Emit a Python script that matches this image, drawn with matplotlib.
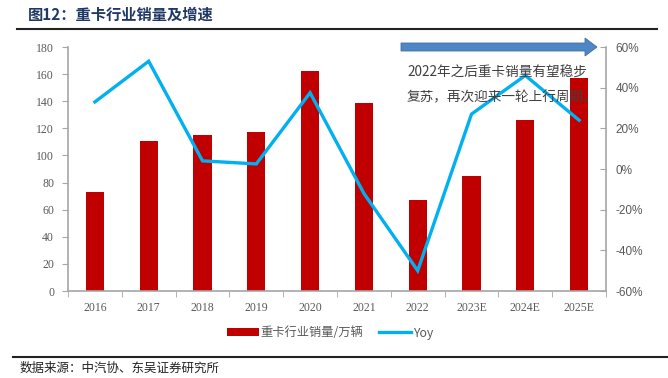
import numpy as np
import matplotlib.pyplot as plt
from matplotlib.patches import FancyArrow
from matplotlib.lines import Line2D
from matplotlib.patches import Patch

plt.rcParams['font.family'] = ['Noto Sans CJK SC', 'DejaVu Sans']

years = ['2016', '2017', '2018', '2019', '2020', '2021', '2022', '2023E', '2024E', '2025E']
sales = [73, 111, 115, 117, 162, 139, 67, 85, 126, 157]
yoy = [33, 53, 4, 2.5, 37.5, -12, -50, 27, 46, 24]

bar_color = '#c00000'
line_color = '#00b0f0'
axis_color = '#a6a6a6'
text_color = '#595959'

fig = plt.figure(figsize=(6.68, 3.78), dpi=100)
ax = fig.add_axes([68/668, 1-291/378, (606-68)/668, (291-47)/378])
x = np.arange(len(years))
ax.bar(x, sales, width=0.34, color=bar_color, zorder=2)
ax.set_xlim(-0.5, len(years) - 0.5)
ax.set_ylim(0, 180)
ax.set_yticks(range(0, 181, 20))
ax.set_xticks(x)
ax.set_xticklabels(years)
ax.set_xticks(np.arange(-0.5, len(years), 1), minor=True)
ax.tick_params(axis='x', which='major', length=0, pad=8)
ax.tick_params(axis='x', which='minor', length=4, color=axis_color, direction='out')
ax.tick_params(axis='y', length=4, color=axis_color, direction='out', pad=6)
for lab in ax.get_xticklabels() + ax.get_yticklabels():
    lab.set_fontfamily('Liberation Serif')
    lab.set_fontsize(8.5)
    lab.set_color(text_color)
for s in ['top', 'right']:
    ax.spines[s].set_visible(False)
for s in ['left', 'bottom']:
    ax.spines[s].set_color(axis_color)
    ax.spines[s].set_linewidth(1.2)

ax2 = ax.twinx()
ax2.plot(x, yoy, color=line_color, lw=2.4, zorder=3, solid_joinstyle='miter')
ax2.set_ylim(-60, 60)
ax2.set_yticks(range(-60, 61, 20))
ax2.set_yticklabels([f'{v}%' for v in range(-60, 61, 20)])
ax2.tick_params(axis='y', length=4, color=axis_color, direction='in', pad=7)
for lab in ax2.get_yticklabels():
    lab.set_fontfamily('Liberation Sans')
    lab.set_fontsize(8.5)
    lab.set_color(text_color)
for s in ['top', 'left', 'bottom']:
    ax2.spines[s].set_visible(False)
ax2.spines['right'].set_color(axis_color)
ax2.spines['right'].set_linewidth(1.2)

# arrow and note, drawn over the plot
arrow = FancyArrow(401/668, 1-47/378, (585-401)/668, 0, width=8/378, head_width=18/378,
                   head_length=12/668, length_includes_head=False, transform=fig.transFigure,
                   facecolor='#4f86c6', edgecolor='#41719c', lw=0.6, zorder=10)
fig.add_artist(arrow)
fig.text(407/668, 1-73/378, '2022年之后重卡销量有望稳步', fontsize=9.8, color='#404040',
         va='center', zorder=10)
fig.text(407/668, 1-97/378, '复苏，再次迎来一轮上行周期。', fontsize=9.8, color='#404040',
         va='center', zorder=10)

# legend
handles = [Patch(facecolor=bar_color, label='重卡行业销量/万辆'),
           Line2D([0], [0], color=line_color, lw=2.4, label='Yoy')]
leg = fig.legend(handles=handles, loc='center', bbox_to_anchor=(330/668, 1-333/378), ncol=2,
                 frameon=False, fontsize=8.8, handlelength=2.6, handleheight=0.6,
                 columnspacing=1.3, handletextpad=0.15)
for t in leg.get_texts():
    t.set_color(text_color)

# title, rules and source
fig.text(28/668, 1-15/378, '图12：重卡行业销量及增速', fontsize=11, fontweight='bold',
         color='#1f3864', va='center')
fig.add_artist(Line2D([17/668, 657/668], [1-29/378, 1-29/378], color='#222222', lw=1.5))
fig.add_artist(Line2D([13/668, 1.0], [1-357/378, 1-357/378], color='#222222', lw=1.5))
fig.text(20/668, 1-368/378, '数据来源：中汽协、东吴证券研究所', fontsize=9, color='#222222', va='center')

fig.savefig('out.png', dpi=100)
